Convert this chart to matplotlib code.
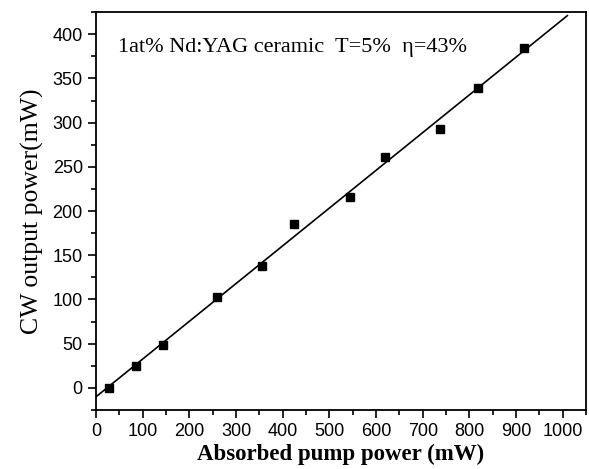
import matplotlib
matplotlib.use("Agg")
import matplotlib.pyplot as plt
import numpy as np
from matplotlib.ticker import MultipleLocator

pump = [28, 85, 143, 260, 355, 424, 544, 619, 737, 818, 918]
output = [0, 25, 49, 103, 138, 185, 216, 261, 293, 339, 385]
xticks = [0, 100, 200, 300, 400, 500, 600, 700, 800, 900, 1000]
yticks = [0, 50, 100, 150, 200, 250, 300, 350, 400]

fig = plt.figure(figsize=(5.89, 4.69), dpi=100)
ax = fig.add_axes([0.163, 0.126, 0.832, 0.848])

coef = np.polyfit(pump, output, 1)
xf = np.array([0, 1010])
ax.plot(xf, np.polyval(coef, xf), color='black', lw=1.2)
ax.plot(pump, output, 's', color='black', ms=6)

ax.set_xlim(0, 1050)
ax.set_ylim(-25, 425)
ax.set_xticks(xticks)
ax.set_yticks(yticks)
ax.xaxis.set_minor_locator(MultipleLocator(50))
ax.yaxis.set_minor_locator(MultipleLocator(25))
ax.tick_params(which='major', direction='out', length=6, width=1.2, labelsize=13,
               top=False, right=False)
ax.tick_params(which='minor', direction='out', length=3.5, width=1.2, top=False, right=False)
for lab in ax.get_xticklabels() + ax.get_yticklabels():
    lab.set_family('Liberation Sans')
for s in ax.spines.values():
    s.set_linewidth(1.3)

ax.set_xlabel('Absorbed pump power (mW)', family='Liberation Serif', fontweight='bold',
              fontsize=16.5, labelpad=3)
ax.set_ylabel('CW output power(mW)', family='Liberation Serif', fontsize=18.5, labelpad=6)
ax.text(0.045, 0.935, '1at% Nd:YAG ceramic  T=5%  η=43%', transform=ax.transAxes,
        family='Liberation Serif', fontsize=16, va='top', ha='left')

fig.savefig('out.png', dpi=100)
